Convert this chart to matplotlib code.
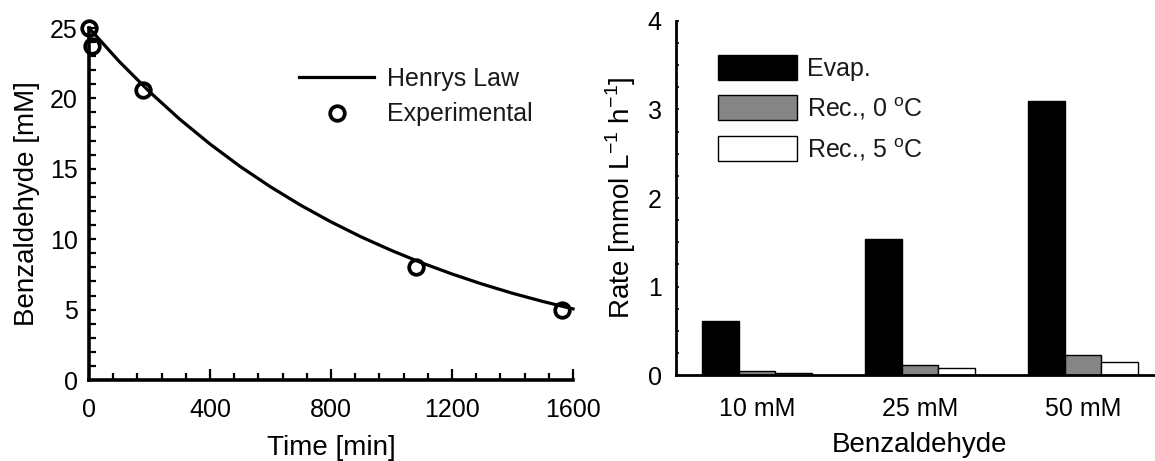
import numpy as np
import matplotlib
matplotlib.use('Agg')
from matplotlib import pyplot as plt
from matplotlib import rcParams
from matplotlib.ticker import MultipleLocator

rcParams['font.family'] = 'Liberation Sans'
rcParams['mathtext.fontset'] = 'custom'
rcParams['mathtext.rm'] = 'Liberation Sans'
rcParams['text.color'] = '#1a1a1a'

model_t = [0, 100, 200, 300, 400, 500, 600, 700, 800, 900, 1000, 1100, 1200, 1300, 1400, 1500, 1600]
model_c = [25.0, 22.62, 20.47, 18.52, 16.76, 15.16, 13.72, 12.41, 11.23, 10.16, 9.2, 8.32, 7.53,
           6.81, 6.16, 5.58, 5.05]
exp_t = [0, 10, 179, 1081, 1564]
exp_c = [25.0, 23.7, 20.6, 8.05, 4.97]

# right panel: rates per benzaldehyde concentration
groups = ['10 mM', '25 mM', '50 mM']
evap = [0.61, 1.54, 3.10]
rec_0 = [0.045, 0.11, 0.226]
rec_5 = [0.026, 0.076, 0.152]

fig = plt.figure(figsize=(11.55, 4.61), dpi=100)
fig.patch.set_facecolor('white')

W, H = 1155, 461

# ---- left plot
ax = fig.add_axes([89 / W, 1 - 380 / H, 484 / W, 352 / H])
ax.plot(model_t, model_c, color='black', lw=2.3, label='Henrys Law', clip_on=False, zorder=3)
ax.plot(exp_t, exp_c, 'o', ms=10.5, mfc='none', mec='black', mew=2.7,
        label='Experimental', clip_on=False, zorder=4)
ax.set_xlim(0, 1600)
ax.set_ylim(0, 25)
ax.xaxis.set_major_locator(MultipleLocator(400))
ax.xaxis.set_minor_locator(MultipleLocator(80))
ax.yaxis.set_major_locator(MultipleLocator(5))
ax.yaxis.set_minor_locator(MultipleLocator(1))
for s in ['top', 'right']:
    ax.spines[s].set_visible(False)
for s in ['left', 'bottom']:
    ax.spines[s].set_linewidth(2.6)
ax.tick_params(axis='x', which='major', direction='in', length=8, width=1.6, pad=13, labelsize=18)
ax.tick_params(axis='x', which='minor', direction='in', length=5, width=1.6)
ax.tick_params(axis='y', which='both', direction='in', length=5, width=1.6, pad=8, labelsize=18)
ax.set_xlabel('Time [min]', fontsize=20, labelpad=9)
ax.set_ylabel('Benzaldehyde [mM]', fontsize=20, labelpad=7)
leg = ax.legend(loc='upper left', bbox_to_anchor=(0.434, 0.889), frameon=False, fontsize=18,
                handlelength=3.0, handletextpad=0.5, labelspacing=0.45, borderpad=0,
                borderaxespad=0)

# ---- right plot
ax2 = fig.add_axes([675.5 / W, 1 - 375 / H, 489 / W, 354 / H])
x = np.arange(1, len(groups) + 1)
w = 0.224
ax2.bar(x - w, evap, w, color='black', edgecolor='black', lw=1, label='Evap.')
ax2.bar(x, rec_0, w, color='#858585', edgecolor='black', lw=1, label='Rec., 0 $^{\\mathregular{o}}$C')
ax2.bar(x + w, rec_5, w, color='white', edgecolor='black', lw=1, label='Rec., 5 $^{\\mathregular{o}}$C')
ax2.set_xlim(0.5, 3.5)
ax2.set_ylim(0, 4)
ax2.set_xticks(x)
ax2.set_xticklabels(groups)
ax2.yaxis.set_major_locator(MultipleLocator(1))
ax2.yaxis.set_minor_locator(MultipleLocator(0.25))
for s in ['top', 'right']:
    ax2.spines[s].set_visible(False)
for s in ['left', 'bottom']:
    ax2.spines[s].set_linewidth(2.0)
ax2.tick_params(axis='x', length=0, pad=16, labelsize=18)
ax2.tick_params(axis='y', which='both', direction='in', length=2.5, width=1.2, pad=10, labelsize=18)
ax2.set_xlabel('Benzaldehyde', fontsize=20, labelpad=8)
ax2.set_ylabel('Rate [mmol L$^{\\mathregular{-1}}$ h$^{\\mathregular{-1}}$]', fontsize=20, labelpad=7)
leg2 = ax2.legend(loc='upper left', bbox_to_anchor=(0.087, 0.904), frameon=False, fontsize=18,
                  handlelength=3.15, handleheight=1.15, handletextpad=0.4, labelspacing=0.57,
                  borderpad=0, borderaxespad=0)

fig.savefig('out.png', dpi=100)
